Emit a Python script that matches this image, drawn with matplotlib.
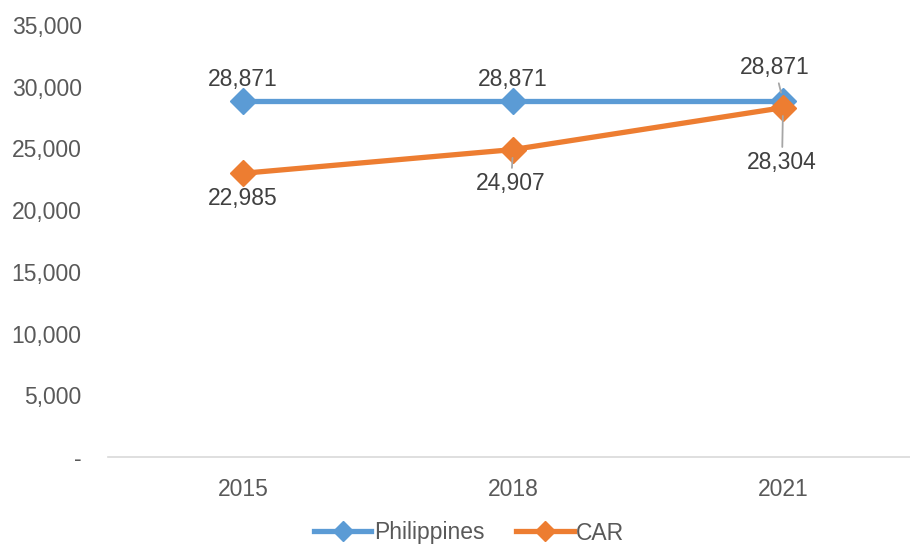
import matplotlib.pyplot as plt
from matplotlib.ticker import FuncFormatter

years = ["2015", "2018", "2021"]
philippines = [28871, 28871, 28871]
car = [22985, 24907, 28304]

# label offsets in pixels (dx, dy) and whether a leader line is drawn
phil_offsets = [(0, 21), (0, 21), (-8, 33)]
phil_leader = [False, False, True]
car_offsets = [(0, -25), (-2, -34), (-1, -55)]
car_leader = [False, True, True]

plt.rcParams["font.family"] = ["Liberation Sans", "DejaVu Sans"]

fig = plt.figure(figsize=(9.10, 5.47), dpi=100)
ax = fig.add_axes([108 / 910, 90 / 547, 810 / 910, 432 / 547])

x = range(len(years))
blue = "#5B9BD5"
orange = "#ED7D31"
ax.plot(x, philippines, color=blue, lw=3.8, marker="D", ms=13, label="Philippines", zorder=3)
ax.plot(x, car, color=orange, lw=3.8, marker="D", ms=13, label="CAR", zorder=4)

def label(xs, ys, offs, leaders):
    for xi, yi, (dx, dy), lead in zip(xs, ys, offs, leaders):
        kw = {}
        if lead:
            kw["arrowprops"] = dict(arrowstyle="-", color="#A6A6A6", lw=1.3,
                                    shrinkA=1, shrinkB=6)
        ax.annotate(f"{yi:,}", (xi, yi), xytext=(dx, dy), textcoords="offset pixels",
                    ha="center", va="center", fontsize=16.5, color="#404040", zorder=5, **kw)

label(x, philippines, phil_offsets, phil_leader)
label(x, car, car_offsets, car_leader)

ax.set_xlim(-0.5, 2.5)
ax.set_ylim(0, 35000)
ax.set_yticks(range(0, 35001, 5000))
ax.yaxis.set_major_formatter(FuncFormatter(lambda v, p: "-" if v == 0 else f"{int(v):,}"))
ax.set_xticks(list(x))
ax.set_xticklabels(years)
ax.tick_params(axis="both", length=0, labelsize=16.5, labelcolor="#595959")
ax.tick_params(axis="x", pad=15)
ax.tick_params(axis="y", pad=19)
for s in ["top", "right", "left"]:
    ax.spines[s].set_visible(False)
ax.spines["bottom"].set_color("#D9D9D9")
ax.spines["bottom"].set_linewidth(1.2)

leg = fig.legend(loc="center", bbox_to_anchor=(469 / 910, 14 / 547), ncol=2, frameon=False,
                 fontsize=16.5, handlelength=2.5, columnspacing=1.4, handletextpad=0.1,
                 borderpad=0, markerscale=0.75)
for t in leg.get_texts():
    t.set_color("#595959")

fig.savefig("out.png", dpi=100)
